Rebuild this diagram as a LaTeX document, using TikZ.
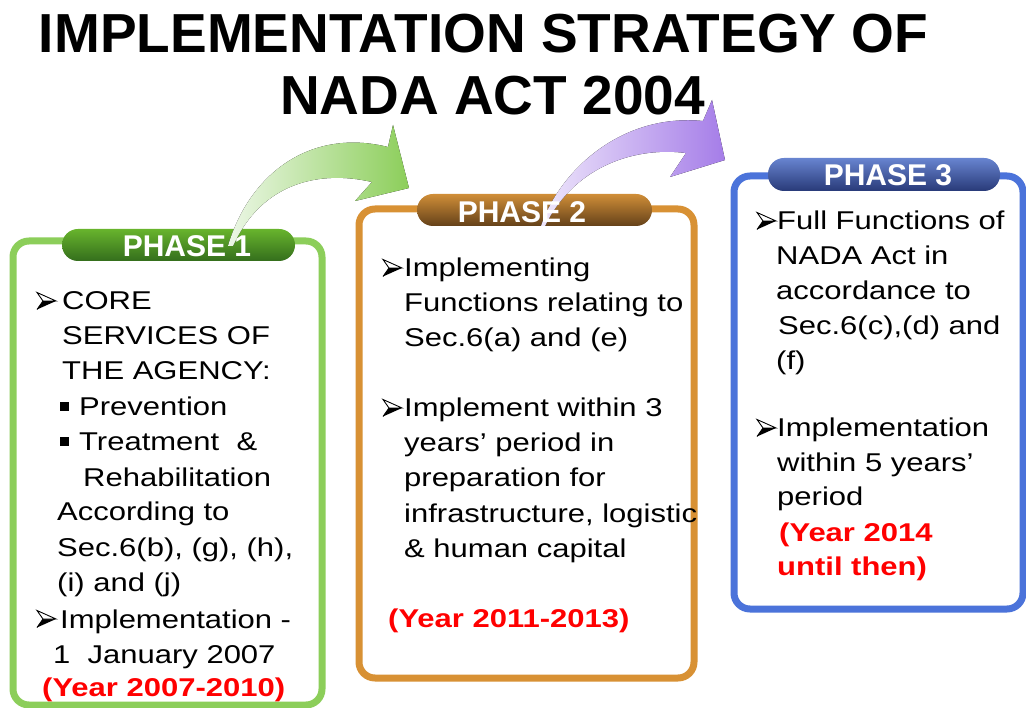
\documentclass[tikz,border=0pt]{standalone}
\usepackage{fontspec}
\usepackage{graphicx}
\setmainfont{Liberation Sans}
\definecolor{boxgreen}{RGB}{140,206,90}
\definecolor{pillgreenT}{RGB}{104,180,45}
\definecolor{pillgreenB}{RGB}{52,110,28}
\definecolor{boxorange}{RGB}{216,145,52}
\definecolor{pillbrownT}{RGB}{208,142,56}
\definecolor{pillbrownB}{RGB}{100,65,25}
\definecolor{boxblue}{RGB}{75,115,218}
\definecolor{pillblueT}{RGB}{104,132,208}
\definecolor{pillblueB}{RGB}{40,58,120}
\definecolor{arrgreenL}{RGB}{236,247,230}
\definecolor{arrgreenR}{RGB}{140,206,90}
\definecolor{arrpurpL}{RGB}{238,230,251}
\definecolor{arrpurpR}{RGB}{165,125,232}
\definecolor{yearred}{RGB}{255,0,0}
\newcommand\vs[1]{\scalebox{1}[0.83]{#1}}
\tikzset{
  body/.style={inner sep=0pt, anchor=base west, font=\fontsize{31}{31}\selectfont},
  yeartext/.style={inner sep=0pt, anchor=base west, text=yearred, font=\fontsize{31}{31}\selectfont\bfseries},
  sqbul/.style={fill=black, minimum size=9pt, inner sep=0pt},
  frame/.style={line width=7pt, rounded corners=16pt, fill=white, inner sep=0pt},
  pill/.style={rounded corners=16pt, inner sep=0pt, minimum height=32pt},
  phasetext/.style={text=white, font=\fontsize{30}{30}\selectfont\bfseries, anchor=base, inner sep=0pt},
  titletext/.style={font=\fontsize{55}{55}\selectfont\bfseries, anchor=base, inner sep=0pt},
  bularrow/.pic={
    \fill[black] (6,0) -- (19,0) -- (0,8.5) -- cycle;
    \filldraw[fill=white, draw=black, line width=0.9pt, line join=miter] (0,-8.5) -- (19,0) -- (6,0) -- cycle;
    \draw[black, line width=0.9pt] (6,0) -- (0,8.5);
  }
}
\begin{document}
\begin{tikzpicture}[x=1pt,y=-1pt]
\fill[white] (0,0) rectangle (1026,708);
\useasboundingbox (0,0) rectangle (1026,708);

% title
\node[titletext] (t1) at (483.5,53) {IMPLEMENTATION STRATEGY OF};
\node[titletext] (t2) at (492.5,115) {NADA ACT 2004};

% frames
\node[frame, draw=boxgreen, minimum width=309pt, minimum height=464pt] (box1) at (167.5,473) {};
\node[frame, draw=boxorange, minimum width=335pt, minimum height=469pt] (box2) at (526.5,443.5) {};
\node[frame, draw=boxblue, minimum width=289pt, minimum height=433pt] (box3) at (878.5,392.5) {};

% pills
\node[pill, top color=pillgreenT, bottom color=pillgreenB, minimum width=233pt] (pill1) at (178.5,245) {};
\node[pill, top color=pillbrownT, bottom color=pillbrownB, minimum width=235pt] (pill2) at (534.5,210) {};
\node[pill, top color=pillblueT, bottom color=pillblueB, minimum width=232pt, minimum height=33pt] (pill3) at (884,174.5) {};

% curved arrows
\fill[left color=arrgreenL, right color=arrgreenR]
  (228,246) .. controls (250,172) and (312,128) .. (388,147)
  -- (393,125) -- (409,188) -- (355,201) -- (372,182)
  .. controls (320,170) and (262,182) .. (233,246) -- cycle;
\fill[left color=arrpurpL, right color=arrpurpR]
  (541,226) .. controls (560,170) and (622,113) .. (703,121)
  -- (712,100) -- (725,160) -- (670,177) -- (686,153)
  .. controls (630,146) and (572,170) .. (545,226) -- cycle;

% phase labels
\node[phasetext] (ph1) at (187,257) {PHASE 1};
\node[phasetext] (ph2) at (522,223) {PHASE 2};
\node[phasetext] (ph3) at (888,186) {PHASE 3};

% phase 1 text
\pic at (37,301) {bularrow};
\node[body] (l11) at (62,310) {\vs{CORE}};
\node[body] (l12) at (62,345) {\vs{SERVICES OF}};
\node[body] (l13) at (62,380) {\vs{THE AGENCY:}};
\node[sqbul] (s11) at (64.5,407) {};
\node[body] (l14) at (79,416) {\vs{Prevention}};
\node[sqbul] (s12) at (64.5,442) {};
\node[body] (l15) at (79,451) {\vs{Treatment~~\&}};
\node[body] (l16) at (83,486) {\vs{Rehabilitation}};
\node[body] (l17) at (57,521) {\vs{According to}};
\node[body] (l18) at (57,556) {\vs{Sec.6(b), (g), (h),}};
\node[body] (l19) at (57,591) {\vs{(i) and (j)}};
\pic at (37,619) {bularrow};
\node[body] (l110) at (60,628) {\vs{Implementation -}};
\node[body] (l111) at (53,663) {\vs{1~~January 2007}};
\node[yeartext] (y1) at (42,696) {\vs{(Year 2007-2010)}};

% phase 2 text
\pic at (383,268) {bularrow};
\node[body] (l21) at (404,277) {\vs{Implementing}};
\node[body] (l22) at (404,312) {\vs{Functions relating to}};
\node[body] (l23) at (404,347) {\vs{Sec.6(a) and (e)}};
\pic at (383,408) {bularrow};
\node[body] (l24) at (404,417) {\vs{Implement within 3}};
\node[body] (l25) at (404,452) {\vs{years’ period in}};
\node[body] (l26) at (404,487) {\vs{preparation for}};
\node[body] (l27) at (404,522) {\vs{infrastructure, logistic}};
\node[body] (l28) at (404,557) {\vs{\& human capital}};
\node[yeartext] (y2) at (388,627) {\vs{(Year 2011-2013)}};

% phase 3 text
\pic at (757,221) {bularrow};
\node[body] (l31) at (777,230) {\vs{Full Functions of}};
\node[body] (l32) at (776,265) {\vs{NADA Act in}};
\node[body] (l33) at (776,300) {\vs{accordance to}};
\node[body] (l34) at (778,335) {\vs{Sec.6(c),(d) and}};
\node[body] (l35) at (776,370) {\vs{(f)}};
\pic at (757,428) {bularrow};
\node[body] (l36) at (777,437) {\vs{Implementation}};
\node[body] (l37) at (777,472) {\vs{within 5 years’}};
\node[body] (l38) at (777,506) {\vs{period}};
\node[yeartext] (y3) at (779,541) {\vs{(Year 2014}};
\node[yeartext] (y4) at (777,575) {\vs{until then)}};
\end{tikzpicture}
\end{document}
